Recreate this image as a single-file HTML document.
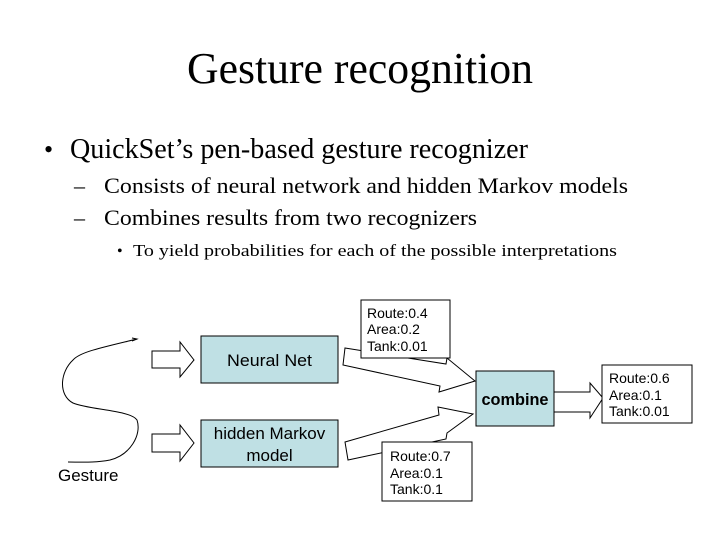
<!DOCTYPE html>
<html><head><meta charset="utf-8"><style>html,body{margin:0;padding:0;background:#fff}svg{display:block}</style></head>
<body>
<svg width="720" height="540" viewBox="0 0 720 540" xmlns="http://www.w3.org/2000/svg">
<g font-family="Liberation Serif, serif" fill="#000">
<text x="187" y="83" font-size="44" textLength="346" lengthAdjust="spacingAndGlyphs">Gesture recognition</text>
<text x="44" y="158" font-size="26">•</text>
<text x="70" y="158" font-size="28" textLength="458" lengthAdjust="spacingAndGlyphs">QuickSet’s pen-based gesture recognizer</text>
<text x="74" y="193" font-size="22">–</text>
<text x="104" y="193" font-size="22" textLength="524" lengthAdjust="spacingAndGlyphs">Consists of neural network and hidden Markov models</text>
<text x="74" y="225" font-size="22">–</text>
<text x="104" y="225" font-size="22" textLength="373" lengthAdjust="spacingAndGlyphs">Combines results from two recognizers</text>
<text x="117" y="256" font-size="16">•</text>
<text x="133" y="256" font-size="17" textLength="484" lengthAdjust="spacingAndGlyphs">To yield probabilities for each of the possible interpretations</text>
</g>
<g fill="none" stroke="#000" stroke-width="1">
<path d="M137,339 C100,348 80,352 73,360 C60,372 58,395 73,403 C90,410 130,410 137,420 C142,435 130,455 110,460 C95,463 80,462 68,462"/>
<path d="M132,338 L137,339 L132,341"/>
</g>
<g stroke="#000" stroke-width="1" fill="#fff">
<polygon points="152,351 180,351 180,342 194,360 180,377 180,368 152,368"/>
<polygon points="152,434 180,434 180,425 194,443 180,461 180,452 152,452"/>
<polygon points="345,348 446,364 447,358 475,381 439,392 440,386 343,365"/>
<polygon points="345,442 439,415 438,407 473,414 447,433 446,439 348,460"/>
<polygon points="554,392 590,392 590,383 603,398 590,418 590,412 554,412"/>
<rect x="201" y="336" width="137" height="47" fill="#bfe0e4"/>
<rect x="201" y="420" width="137" height="47" fill="#bfe0e4"/>
<rect x="476" y="371" width="78" height="55" fill="#bfe0e4"/>
<rect x="361" y="300" width="89" height="58"/>
<rect x="602" y="365" width="90" height="58"/>
<rect x="382" y="442" width="90" height="59"/>
</g>
<g font-family="Liberation Sans, sans-serif" fill="#000">
<text x="269.5" y="366" font-size="17" text-anchor="middle" textLength="85" lengthAdjust="spacingAndGlyphs">Neural Net</text>
<text x="269.5" y="439" font-size="17" text-anchor="middle">hidden Markov</text>
<text x="269.5" y="461" font-size="17" text-anchor="middle">model</text>
<text x="515" y="405" font-size="17" font-weight="bold" text-anchor="middle" textLength="67" lengthAdjust="spacingAndGlyphs">combine</text>
<text x="58" y="481" font-size="17">Gesture</text>
<g font-size="14">
<text x="367" y="318">Route:0.4</text><text x="367" y="334">Area:0.2</text><text x="367" y="351">Tank:0.01</text>
<text x="609" y="383">Route:0.6</text><text x="609" y="400">Area:0.1</text><text x="609" y="416">Tank:0.01</text>
<text x="390" y="461">Route:0.7</text><text x="390" y="478">Area:0.1</text><text x="390" y="494">Tank:0.1</text>
</g>
</g>
</svg>
</body></html>
